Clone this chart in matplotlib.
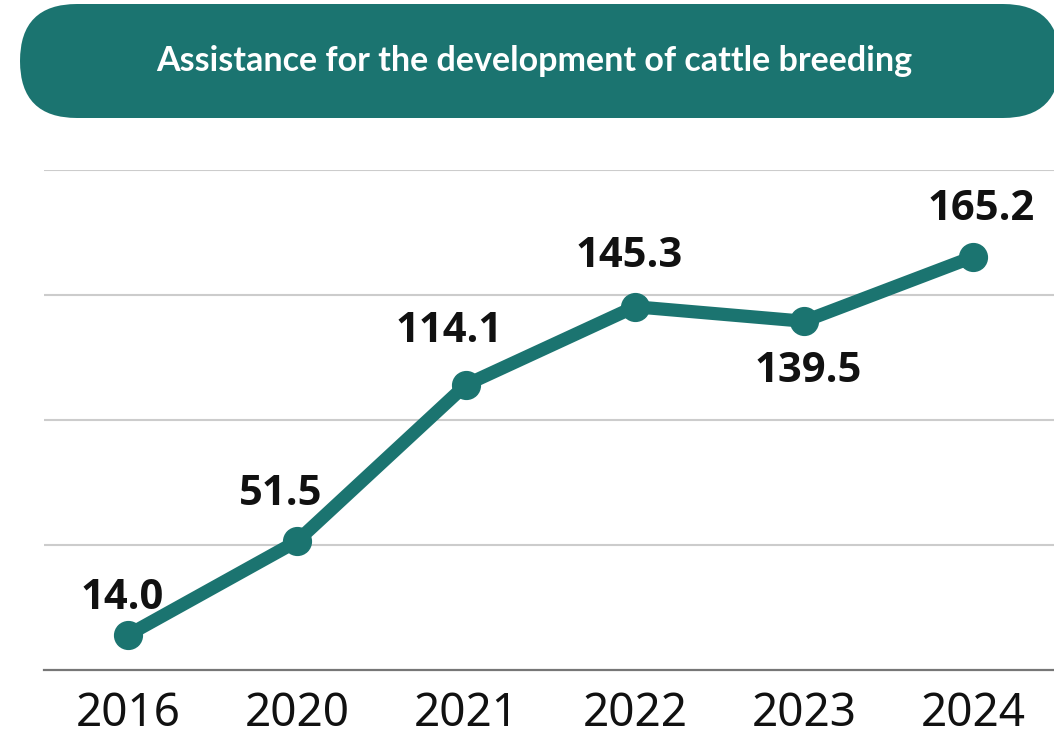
import matplotlib.pyplot as plt
from matplotlib.patches import FancyBboxPatch

# Data
years = ['2016', '2020', '2021', '2022', '2023', '2024']
values = [14.0, 51.5, 114.1, 145.3, 139.5, 165.2]
title = 'Assistance for the development of cattle breeding'

# label offsets in points (dx, dy) - 139.5 sits below its point
label_offsets = [(-4, 26), (-12, 34), (-12, 38), (-4, 36), (3, -36), (6, 34)]

teal = '#1b7470'

fig = plt.figure(figsize=(10.54, 7.38), dpi=100)

# main chart axes, positioned in pixel terms
W, H = 1054, 738
ax = fig.add_axes([43.5 / W, (H - 670) / H, 1014 / W, 500 / H])
x = range(len(years))
ax.plot(x, values, color=teal, linewidth=9.5, solid_capstyle='round',
        marker='o', markersize=20, zorder=3, clip_on=False)

for i, (v, off) in enumerate(zip(values, label_offsets)):
    ax.annotate(f'{v:.1f}', xy=(i, v), xytext=off, textcoords='offset points',
                ha='center', va='center', fontsize=30, fontweight='bold',
                family='Open Sans', color='#111111', zorder=4)

ax.set_xlim(-0.5, 5.5)
ax.set_ylim(0, 200)
ax.set_yticks([50, 100, 150, 200])
ax.set_yticklabels([])
ax.tick_params(axis='y', length=0)
ax.grid(axis='y', color='#cccccc', linewidth=1.5)
ax.set_axisbelow(True)
ax.set_xticks(list(x))
ax.set_xticklabels(years, fontsize=33, family='Noto Sans', color='#111111')
ax.tick_params(axis='x', length=0, pad=15)
for s in ['top', 'right', 'left']:
    ax.spines[s].set_visible(False)
ax.spines['bottom'].set_color('#777777')
ax.spines['bottom'].set_linewidth(1.6)

# title banner drawn in a pixel-coordinate overlay
bg = fig.add_axes([0, 0, 1, 1], zorder=-1)
bg.set_xlim(0, W)
bg.set_ylim(H, 0)
bg.axis('off')
banner = FancyBboxPatch((20, 4), 1040, 114, boxstyle='round,pad=0,rounding_size=57',
                        facecolor=teal, edgecolor='none')
bg.add_patch(banner)
bg.text(534, 61, title, ha='center', va='center', color='white',
        fontsize=24.5, fontweight='bold', family='Lato')

fig.savefig('out.png', dpi=100)
